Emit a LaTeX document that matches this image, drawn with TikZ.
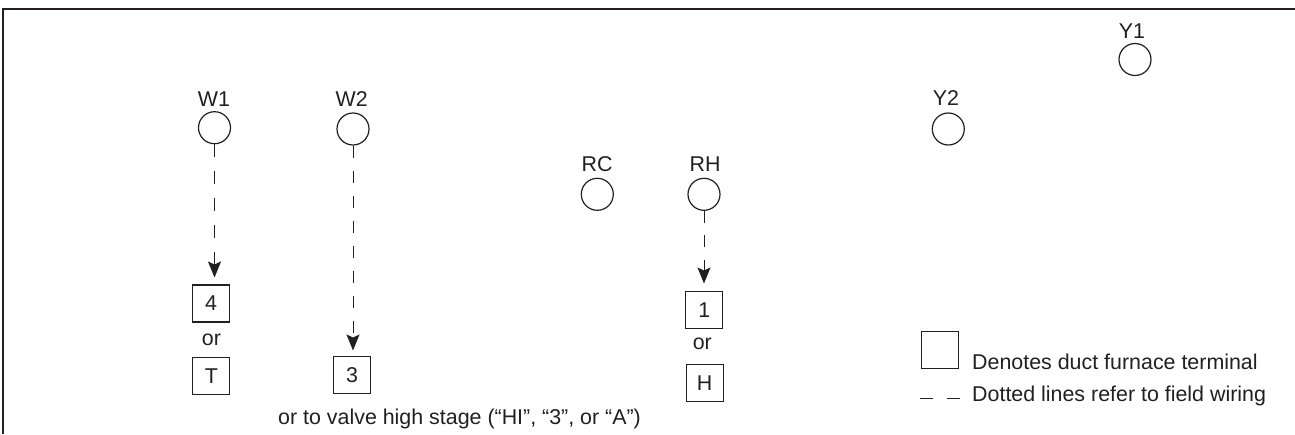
\documentclass[tikz,border=0pt]{standalone}
\usepackage{fontspec}
\setmainfont{Liberation Sans}
\usetikzlibrary{arrows.meta}
\definecolor{ink}{HTML}{231F20}
\tikzset{x=1pt,y=-1pt,
  lab/.style={font=\fontsize{21.4}{21.4}\selectfont,text=ink,inner sep=0pt},
  term/.style={circle,draw=ink,line width=1.2pt,minimum size=32pt,inner sep=0pt},
  tbox/.style={rectangle,draw=ink,line width=1.2pt,minimum size=37pt,inner sep=0pt,font=\fontsize{21.4}{21.4}\selectfont,text=ink},
  wire/.style={draw=ink,line width=1pt,-{Stealth[length=16pt,width=13pt,inset=3pt]}},
  frameline/.style={draw=ink,line width=1.5pt}}
\begin{document}
\begin{tikzpicture}
\useasboundingbox (0,0) rectangle (1295,434);
\coordinate (fa) at (3,434);\coordinate (fb) at (3,9);\coordinate (fc) at (1295,9);
\draw[frameline] (fa)--(fb)--(fc);
\node[term] (w1) at (214.5,127.7) {};
\node[term] (w2) at (353,129) {};
\node[term] (rc) at (597.3,194.3) {};
\node[term] (rh) at (704,194.3) {};
\node[term] (y2) at (948.3,129) {};
\node[term] (y1) at (1135,59.5) {};
\node[lab,anchor=base] (lw1) at (214,106.7) {W1};
\node[lab,anchor=base] (lw2) at (351.7,106.7) {W2};
\node[lab,anchor=base] (lrc) at (597,171.7) {RC};
\node[lab,anchor=base] (lrh) at (705,171.7) {RH};
\node[lab,anchor=base] (ly2) at (946,105) {Y2};
\node[lab,anchor=base] (ly1) at (1132,38.3) {Y1};
\node[tbox] (b4) at (211,303.4) {4};
\node[tbox] (bt) at (211.3,376.3) {T};
\node[tbox] (b3) at (352,375) {3};
\node[tbox] (b1) at (704.2,310) {1};
\node[tbox] (bh) at (704.7,383) {H};
\node[lab,anchor=base] (or1) at (211.5,345.5) {or};
\node[lab,anchor=base] (or2) at (702.3,349.5) {or};
\node[lab,anchor=base west] (valve) at (278,424) {or to valve high stage (“HI”, “3”, or “A”)};
\coordinate (t1) at (w1.south |- 0,277.5);\coordinate (t2) at (w2.south |- 0,350.5);\coordinate (t3) at (rh.south |- 0,283.5);
\draw[wire,dash pattern=on 13pt off 14pt] (w1.south) -- (t1);
\draw[wire,dash pattern=on 12.5pt off 12.5pt] (w2.south) -- (t2);
\draw[wire,dash pattern=on 12pt off 12.5pt] (rh.south) -- (t3);
\node[tbox] (lg) at (939.7,350) {};
\coordinate (d1) at (920,398);\coordinate (d2) at (961,398);
\draw[draw=ink,line width=1pt,dash pattern=on 13pt off 14pt] (d1)--(d2);
\node[lab,anchor=base west] (t1a) at (972,369) {Denotes duct furnace terminal};
\node[lab,anchor=base west] (t2a) at (972,401) {Dotted lines refer to field wiring};
\end{tikzpicture}
\end{document}
